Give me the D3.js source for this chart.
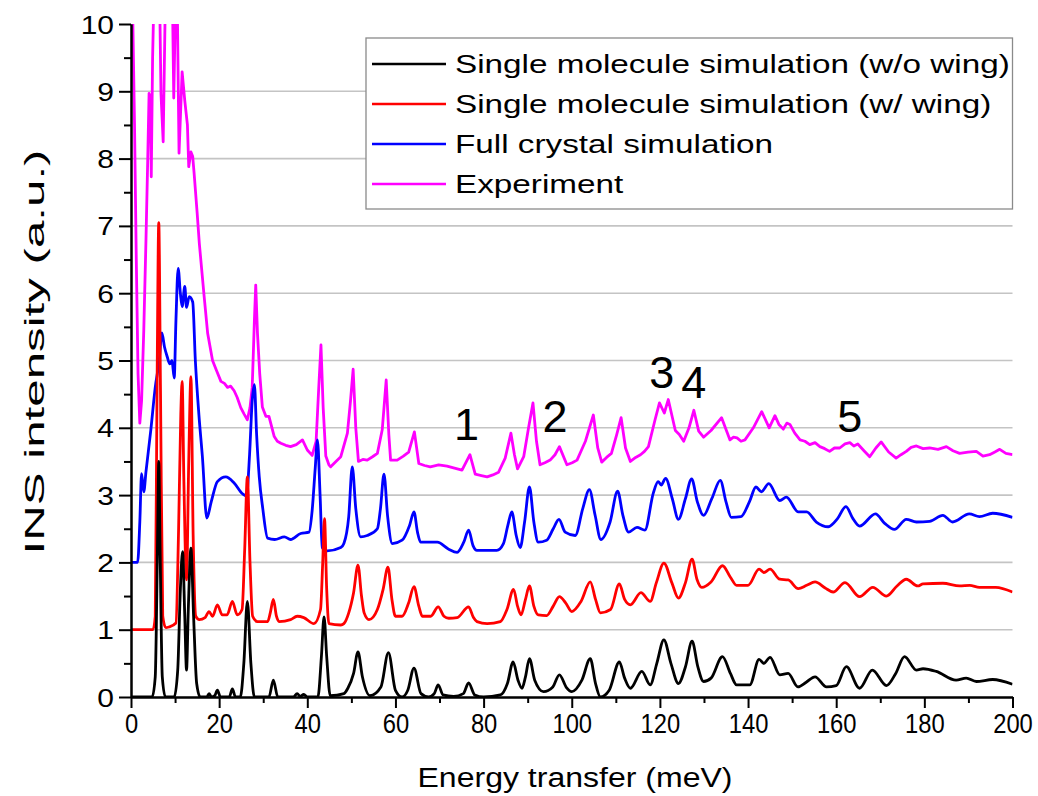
<!DOCTYPE html>
<html><head><meta charset="utf-8">
<script src="https://cdn.jsdelivr.net/npm/d3@7"></script>
<style>body{margin:0;background:#fff}svg{display:block}text{font-family:"Liberation Sans",Arial,sans-serif;fill:#000}</style>
</head><body>
<script>
// ---------- data ----------
const seriesNames = ["Single molecule simulation (w/o wing)","Single molecule simulation (w/ wing)","Full crystal simulation","Experiment"];
const seriesColors = ["#000000","#ff0000","#0000ff","#ff00ff"];
const xTicks = [0,20,40,60,80,100,120,140,160,180,200];
const xMinor = [10,30,50,70,90,110,130,150,170,190];
const yTicks = [0,1,2,3,4,5,6,7,8,9,10];
const yMinor = [0.5,1.5,2.5,3.5,4.5,5.5,6.5,7.5,8.5,9.5];
const gridValues = [1,2,3,4,5,6,7,8,9];
const peakLabels = ["1","2","3","4","5"];
const peakLabelAt = [[76.1,3.82],[96.2,3.94],[120.4,4.59],[127.7,4.44],[163.1,3.94]];

const blackData = [
[0,0],[4.8,0],[5.5,0.3],[6.0,2.2],[6.3,3.5],[6.6,2.2],[7.1,0.3],[7.8,0],
[9.8,0],[10.6,0.4],[11.2,1.6],[11.7,2.16],[12.2,1.2],[12.6,0.4],[13.0,1.3],[13.6,2.21],[14.2,1.2],[14.9,0.2],[15.7,0],
[17.2,0],[17.7,0.05],[18.3,0],[19.0,0.02],[19.6,0.1],[20.3,0],[22.3,0],[23,0.12],[23.7,0],
[24.8,0],[25.6,0.5],[26.4,1.42],[27.2,0.5],[28.0,0],
[31.3,0],[32.3,0.25],[33.3,0],
[36.8,0],[37.7,0.05],[38.4,0.01],[39.2,0.04],[40,0],
[42.4,0],[43.2,0.6],[43.8,1.19],[44.4,0.6],[45.2,0.02],
[48.3,0.05],[49.2,0.13],[50.5,0.35],[51.5,0.67],[52.5,0.3],[54.2,0.02],
[56.7,0.15],[58.4,0.66],[60,0.1],[61.5,0],
[62.8,0.1],[64.2,0.43],[65.8,0.05],[67.5,0],
[68.8,0.05],[69.7,0.18],[70.8,0.03],[73.2,0.01],
[75.4,0.05],[76.6,0.21],[78,0.03],[80,0],[83.8,0.03],
[85.4,0.2],[86.7,0.52],[87.8,0.25],[88.7,0.13],[89.5,0.3],[90.4,0.57],[91.6,0.25],[93.6,0.08],
[95.7,0.15],[97.2,0.33],[98.8,0.14],[100,0.08],[102.3,0.25],[104.2,0.57],[105.4,0.2],[106.5,0.0],
[108.5,0.1],[110.8,0.52],[112,0.28],[113.3,0.13],[115.9,0.38],[117.8,0.18],
[119.3,0.5],[120.9,0.85],[122.5,0.5],[124.2,0.2],[125.8,0.45],[127.3,0.83],[128.6,0.45],[129.9,0.23],[131.6,0.28],
[134.2,0.6],[136,0.35],[137.4,0.18],[140.4,0.18],[142.5,0.56],[143.6,0.5],[145,0.59],[147.2,0.33],[149.1,0.35],[151.3,0.15],
[153.2,0.22],[155.2,0.3],[157.8,0.15],[160,0.17],[162.3,0.45],[165.3,0.13],[168.2,0.4],[171.4,0.17],[173.5,0.35],[175.5,0.6],
[178.2,0.4],[179.7,0.42],[182.7,0.38],[187.2,0.25],[189.5,0.28],[191.8,0.23],[195.5,0.26],[200,0.19]
];

const redData = [
[0,1],[5.0,1],[5.5,1.2],[5.9,4.5],[6.3,7.05],[6.7,4.5],[7.2,1.2],[7.9,1.03],[8.6,1.04],[10.2,1.1],[10.8,2.5],[11.3,4.2],[11.6,4.69],
[12.0,3.2],[12.6,1.74],[13.1,3.5],[13.6,4.76],[14.1,2.4],[14.7,1.2],[15.5,1.15],[16.8,1.18],[17.7,1.27],[18.5,1.2],[19.6,1.37],
[20.7,1.22],[21.8,1.22],[23,1.42],[24.1,1.22],[25.2,1.3],[25.8,2.2],[26.4,3.27],[27.0,2.0],[27.6,1.2],[28.7,1.12],[31,1.12],
[31.6,1.25],[32.3,1.45],[33,1.2],[33.6,1.12],[36.2,1.15],[37.7,1.2],[39.2,1.18],[41.5,1.09],[43.0,1.3],[43.5,2.0],[43.9,2.65],
[44.4,1.6],[44.9,1.09],[47.6,1.07],[48.3,1.09],[49.4,1.25],[50.5,1.55],[51.5,1.96],[52.3,1.5],[52.9,1.25],[54,1.15],[55.9,1.3],
[57.2,1.6],[58.3,1.93],[59.2,1.45],[60,1.2],[61.5,1.2],[63,1.4],[64.2,1.64],[65.3,1.35],[66.1,1.2],[68,1.2],[69.7,1.34],[71,1.2],
[72.1,1.17],[74,1.18],[76.6,1.34],[77.7,1.18],[78.5,1.12],[80.8,1.09],[83.8,1.12],[85.3,1.3],[86.8,1.6],[87.7,1.35],[88.5,1.22],
[89.5,1.45],[90.4,1.65],[91.4,1.35],[92.4,1.22],[94.3,1.21],[95.8,1.35],[97.2,1.49],[98.6,1.4],[100,1.27],[102.1,1.42],[104.2,1.71],
[105.4,1.45],[106.5,1.25],[108.8,1.3],[110.8,1.68],[112,1.45],[113.3,1.37],[115.7,1.55],[117.8,1.42],[119.2,1.7],[120.9,1.99],
[122.7,1.7],[124.2,1.47],[125.8,1.7],[127.3,2.05],[128.4,1.75],[129.5,1.63],[131.6,1.71],[134.2,1.95],[136,1.78],[137.4,1.66],
[140,1.66],[142.5,1.9],[143.6,1.85],[145,1.9],[147.2,1.75],[149.1,1.74],[151.4,1.61],[153.3,1.66],[155.2,1.71],[157.5,1.62],
[159.3,1.56],[162,1.7],[165.3,1.49],[168.3,1.63],[171.4,1.5],[173.8,1.65],[175.9,1.75],[178.5,1.65],[179.7,1.68],[184.2,1.69],
[188,1.65],[190.3,1.66],[192.5,1.63],[196.2,1.63],[200,1.56]
];

const blueData = [
[0,2],[1.5,2],[2.0,2.6],[2.4,3.32],[2.9,3.05],[3.4,3.35],[4.5,3.97],[5.5,4.6],[6.4,5.0],[7.0,5.41],[7.6,5.2],[8.2,5.06],[8.8,4.95],
[9.3,5.0],[9.8,4.74],[10.2,5.6],[10.7,6.37],[11.2,6.0],[11.6,5.8],[12.2,6.1],[12.6,5.79],[13.2,5.95],[14.0,5.87],[14.6,5.0],
[15.4,4.2],[16.2,3.57],[17.2,2.66],[18.2,2.9],[19.6,3.2],[21.5,3.27],[23.4,3.18],[25.3,3.02],[26.2,2.99],[26.9,3.6],[27.5,4.4],
[28.0,4.64],[28.5,3.9],[29.1,3.27],[29.9,2.8],[31,2.36],[32.6,2.34],[34.8,2.38],[36.2,2.34],[38.5,2.43],[40.4,2.45],[41.1,2.77],
[41.8,3.4],[42.3,3.82],[42.9,3.0],[43.4,2.22],[44.5,2.17],[47.6,2.22],[48.3,2.28],[49.4,2.68],[50.2,3.42],[51.0,2.8],[52.1,2.38],
[53.6,2.4],[55.9,2.5],[56.6,2.8],[57.4,3.31],[58.2,2.7],[59.3,2.28],[61.5,2.33],[63.2,2.55],[64.2,2.75],[65.0,2.45],[65.7,2.3],
[69.5,2.3],[72,2.2],[74,2.15],[75.5,2.3],[76.6,2.48],[77.6,2.25],[78.5,2.18],[83,2.18],[84.5,2.28],[85.5,2.55],[86.4,2.75],
[87.4,2.4],[88.3,2.22],[89.3,2.6],[90.4,3.12],[91.4,2.6],[92.4,2.3],[94.3,2.33],[95.8,2.5],[97.1,2.64],[98.5,2.45],[100.8,2.4],
[102.5,2.8],[104,3.08],[105.3,2.7],[106.6,2.34],[108.7,2.6],[110.4,3.06],[111.6,2.7],[112.9,2.45],[114.8,2.52],[116.6,2.48],
[118.5,3.03],[119.6,3.2],[120.3,3.15],[121.3,3.25],[122.8,2.95],[124.2,2.64],[125.8,2.95],[127.2,3.24],[128.5,2.9],[129.9,2.7],
[131.8,2.95],[133.7,3.22],[135,2.9],[136.2,2.67],[138.4,2.68],[140.3,2.9],[141.8,3.12],[143,3.05],[144.7,3.17],[147.2,2.92],
[148.7,2.97],[151.4,2.75],[153.3,2.75],[155.5,2.6],[158.2,2.53],[160.3,2.65],[162.2,2.83],[163.8,2.65],[165.3,2.54],[168.9,2.72],
[171,2.58],[173.2,2.49],[175.9,2.64],[178.2,2.6],[181.2,2.61],[184.2,2.7],[186.4,2.6],[190.2,2.72],[192.5,2.68],[195.5,2.73],[200,2.67]
];

const expData = [
[0.3,10.5],[0.8,8.5],[1.2,6.5],[1.6,4.8],[2.0,4.07],[2.4,4.4],[2.9,5.45],[3.4,6.8],[3.8,8.0],[4.1,8.97],[4.4,8.9],[4.6,7.73],
[4.9,9.5],[5.2,10.4],[6.5,10.4],[6.8,8.97],[7.3,8.25],[7.8,10.4],[9.4,10.4],[9.7,8.9],[10.1,10.3],[10.5,10.3],[10.9,8.08],
[11.6,9.29],[12.2,8.86],[12.8,8.5],[13.1,7.88],[13.6,8.1],[14.0,8.03],[14.3,7.8],[15.0,7.2],[15.5,6.74],[16.6,5.95],[17.4,5.4],
[18.5,5.0],[19.4,4.85],[20.4,4.69],[21.2,4.66],[21.9,4.6],[22.6,4.62],[23.4,4.55],[24.1,4.45],[24.9,4.3],[25.7,4.2],[26.4,4.12],
[27.0,4.3],[27.5,4.6],[28.0,5.6],[28.3,6.12],[28.7,5.4],[29.2,4.81],[29.8,4.31],[30.6,4.17],[31.3,4.17],[32.5,3.87],[33.2,3.8],
[34,3.77],[35.1,3.74],[36.2,3.72],[37.5,3.75],[38.9,3.82],[40,3.67],[41.1,3.59],[42.0,3.8],[42.6,4.6],[43.1,5.23],[43.6,4.3],
[44.2,3.58],[44.9,3.45],[45.3,3.42],[46.5,3.5],[47.6,3.57],[49.1,3.92],[49.8,4.4],[50.4,4.87],[51.0,4.0],[51.6,3.5],[52.6,3.53],
[53.6,3.52],[54.8,3.57],[55.9,3.62],[57.0,3.97],[57.9,4.71],[58.5,3.9],[58.9,3.52],[60.4,3.52],[61.8,3.58],[63,3.64],[64.3,3.94],
[65.3,3.47],[66.6,3.44],[67.9,3.42],[69.8,3.45],[71.7,3.43],[73.4,3.4],[75.1,3.37],[76.9,3.6],[78.1,3.31],[79.5,3.29],[80.8,3.27],
[82.1,3.3],[83.4,3.34],[84.9,3.55],[86.2,3.92],[87.0,3.6],[87.7,3.39],[89.1,3.57],[90.2,4.0],[91.2,4.37],[92.0,3.8],[92.8,3.45],
[93.9,3.48],[95.1,3.52],[96.2,3.6],[97.2,3.72],[98.9,3.45],[100.1,3.48],[101.2,3.52],[103.1,3.8],[104.9,4.19],[105.9,3.7],
[106.8,3.49],[107.9,3.56],[109,3.62],[110.2,3.9],[111.2,4.15],[112.2,3.7],[113.3,3.5],[114.5,3.56],[115.6,3.6],[116.5,3.65],
[117.4,3.72],[118.9,4.12],[119.9,4.37],[121.0,4.22],[121.9,4.42],[123.5,3.96],[124.4,3.9],[125.4,3.8],[126.6,4.0],[127.7,4.26],
[128.8,3.95],[129.9,3.86],[131.6,3.96],[134.0,4.15],[135.9,3.82],[136.7,3.86],[137.5,3.85],[138.4,3.8],[139.3,3.82],[141.2,4.0],
[143.1,4.24],[144.8,4.0],[146.1,4.18],[147.0,4.05],[148,3.98],[148.8,4.07],[149.5,4.05],[150.6,3.92],[151.8,3.82],[152.9,3.8],
[154,3.75],[155.2,3.78],[156.3,3.72],[157.4,3.69],[158.5,3.65],[159.6,3.7],[160.8,3.7],[162.0,3.76],[163.1,3.78],[164.0,3.73],
[164.9,3.76],[166.3,3.66],[167.6,3.57],[169.0,3.7],[170.2,3.79],[171.9,3.64],[173.6,3.55],[174.7,3.6],[175.9,3.65],[177.0,3.71],
[178.2,3.73],[179.7,3.69],[181.2,3.7],[183.1,3.68],[185,3.72],[186.5,3.66],[188,3.62],[189.9,3.64],[191.8,3.65],[193.3,3.58],
[194.8,3.6],[196.0,3.64],[197.1,3.68],[198.5,3.62],[200,3.6]
];

// ---------- drawing ----------
const W = 1038, H = 796;
const svg = d3.select("body").append("svg").attr("width", W).attr("height", H);
const x = d3.scaleLinear().domain([0,200]).range([131,1012.5]);
const y = d3.scaleLinear().domain([0,10]).range([697,24]);

// grid
svg.append("g").selectAll("line").data(gridValues).join("line")
  .attr("x1", x(0)).attr("x2", x(200)).attr("y1", d=>y(d)).attr("y2", d=>y(d))
  .attr("stroke", "#c4c4c4").attr("stroke-width", 1.6);

svg.append("clipPath").attr("id","clip").append("rect")
  .attr("x", x(0)).attr("y", y(10)).attr("width", x(200)-x(0)).attr("height", y(0)-y(10));

const plot = svg.append("g").attr("clip-path","url(#clip)");
const lineSmooth = d3.line().x(d=>x(d[0])).y(d=>y(d[1])).curve(d3.curveMonotoneX);
const lineRaw = d3.line().x(d=>x(d[0])).y(d=>y(d[1]));

const draw = [[expData,3,lineRaw],[blueData,2,lineSmooth],[redData,1,lineSmooth],[blackData,0,lineSmooth]];
draw.forEach(([data,i,gen]) => {
  plot.append("path").datum(data).attr("d", gen).attr("fill","none")
    .attr("stroke", seriesColors[i]).attr("stroke-width", 2.8).attr("stroke-linejoin","round");
});

// axes
function styleAxis(g){ g.selectAll("path,line").attr("stroke","#000").attr("stroke-width",2); }
const xAxis = svg.append("g").attr("transform",`translate(0,${y(0)})`)
  .call(d3.axisBottom(x).tickValues(xTicks).tickSize(11).tickSizeOuter(0).tickPadding(6).tickFormat(d3.format("d")));
styleAxis(xAxis);
xAxis.selectAll("text").attr("font-size",27).attr("font-family","Liberation Sans, Arial").attr("fill","#000")
  .attr("transform","scale(0.88,1)");
const xAxisMinor = svg.append("g").attr("transform",`translate(0,${y(0)})`)
  .call(d3.axisBottom(x).tickValues(xMinor).tickSize(6).tickSizeOuter(0).tickFormat(""));
styleAxis(xAxisMinor);

const yAxis = svg.append("g").attr("transform",`translate(${x(0)},0)`)
  .call(d3.axisLeft(y).tickValues(yTicks).tickSize(12).tickSizeOuter(0).tickPadding(5).tickFormat(d3.format("d")));
styleAxis(yAxis);
yAxis.selectAll("text").attr("font-size",25).attr("font-family","Liberation Sans, Arial").attr("fill","#000")
  .attr("transform","scale(1.2,1)").attr("x", -17/1.2).attr("dy","0.36em");
const yAxisMinor = svg.append("g").attr("transform",`translate(${x(0)},0)`)
  .call(d3.axisLeft(y).tickValues(yMinor).tickSize(7).tickSizeOuter(0).tickFormat(""));
styleAxis(yAxisMinor);

// axis titles
svg.append("text").attr("x", 575).attr("y", 787).attr("text-anchor","middle")
  .attr("font-size", 27).attr("textLength", 315).attr("lengthAdjust","spacingAndGlyphs")
  .text("Energy transfer (meV)");
svg.append("text").attr("transform","translate(44,352) rotate(-90)").attr("text-anchor","middle")
  .attr("font-size", 27).attr("textLength", 405).attr("lengthAdjust","spacingAndGlyphs")
  .text("INS intensity (a.u.)");

// peak labels
svg.append("g").selectAll("text").data(peakLabels).join("text")
  .attr("x",(d,i)=>x(peakLabelAt[i][0])).attr("y",(d,i)=>y(peakLabelAt[i][1]))
  .attr("text-anchor","middle").attr("font-size",45).text(d=>d);

// legend
const lg = svg.append("g");
lg.append("rect").attr("x",366).attr("y",38).attr("width",1012.5-366).attr("height",171)
  .attr("fill","#fff").attr("stroke","#8a8a8a").attr("stroke-width",1.3);
const rowY = [64,104,144,184];
seriesNames.forEach((name,i)=>{
  lg.append("line").attr("x1",372).attr("x2",446).attr("y1",rowY[i]).attr("y2",rowY[i])
    .attr("stroke",seriesColors[i]).attr("stroke-width",2.6);
  lg.append("text").attr("transform",`translate(455,${rowY[i]}) scale(1.28,1)`).attr("dy","0.36em")
    .attr("font-size",26).text(name);
});
</script>
</body></html>
